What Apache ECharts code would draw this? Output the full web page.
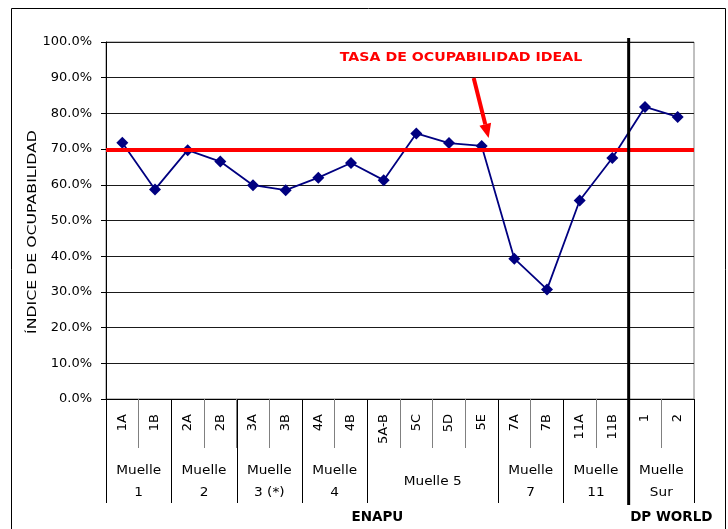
<!DOCTYPE html>
<html>
<head>
<meta charset="utf-8">
<script src="https://cdn.jsdelivr.net/npm/echarts@6/dist/echarts.min.js"></script>
<style>
html,body{margin:0;padding:0;background:#fff;}
#c{width:728px;height:529px;}
</style>
</head>
<body>
<div id="c"></div>
<script>
var categories = ['1A','1B','2A','2B','3A','3B','4A','4B','5A-B','5C','5D','5E','7A','7B','11A','11B','1','2'];
var values = [71.8,58.7,69.7,66.5,59.9,58.5,62.0,66.1,61.3,74.4,71.7,70.9,39.3,30.7,55.6,67.5,81.8,79.0];
var idealRate = 69.7;
var idealLabel = 'TASA DE OCUPABILIDAD IDEAL';
var yAxisTitle = 'ÍNDICE DE OCUPABILIDAD';
var yTicks = [0,10,20,30,40,50,60,70,80,90,100];
// groups: label, first category index, number of categories
var groupNames = ['Muelle\n1','Muelle\n2','Muelle\n3 (*)','Muelle\n4','Muelle 5','Muelle\n7','Muelle\n11','Muelle\nSur'];
var groupStarts = [0,2,4,6,8,12,14,16];
var groupSizes = [2,2,2,2,4,2,2,2];
var operators = ['ENAPU','DP WORLD'];
var operatorStarts = [0,16];
var operatorSizes = [16,2];

var FONT = 'DejaVu Sans';
var chart = echarts.init(document.getElementById('c'));
var option = {
  animation: false,
  backgroundColor: '#fff',
  grid: {left: 106, right: 34, top: 42, bottom: 130, show: true, borderColor: '#808080', borderWidth: 1, backgroundColor: 'transparent'},
  xAxis: {
    type: 'category', data: categories, boundaryGap: true,
    axisLine: {lineStyle: {color: '#000', width: 1}},
    axisTick: {show: true, length: 49, lineStyle: {color: '#808080'}},
    axisLabel: {rotate: 90, margin: 15, fontFamily: FONT, fontSize: 13, color: '#000'},
    splitLine: {show: false}
  },
  yAxis: {
    type: 'value', min: yTicks[0], max: yTicks[yTicks.length-1], interval: 10,
    axisLine: {show: true, lineStyle: {color: '#000'}},
    axisTick: {show: true, inside: false, length: 5, lineStyle: {color: '#000'}},
    axisLabel: {margin: 14, fontFamily: FONT, fontSize: 13, color: '#000', formatter: function(v){return v.toFixed(1)+'%';}},
    splitLine: {show: true, lineStyle: {color: '#1a1a1a', width: 1}}
  },
  series: [
    {
      type: 'line', z: 1, data: categories.map(function(){return null;}), symbol: 'none',
      markLine: {silent: true, symbol: 'none', label: {show: false},
        lineStyle: {color: '#ff0000', width: 4, type: 'solid'},
        data: [{yAxis: idealRate}]}
    },
    {
      type: 'line', z: 3, data: values, symbol: 'diamond', symbolSize: 12,
      lineStyle: {color: '#000080', width: 1.8},
      itemStyle: {color: '#000080'}
    }
  ]
};
chart.setOption(option);

function px(i, v){ return chart.convertToPixel({gridIndex:0}, [i, v]); }
var x0 = px(0,0)[0], x1 = px(1,0)[0];
var band = x1 - x0;
var left = x0 - band/2;
var yBase = px(0,0)[1];
var yTop = px(0,100)[1];
function bx(k){ return left + band*k; }

var g = [];
// outer border
g.push({type:'rect', shape:{x:11.5,y:8.5,width:714,height:540}, style:{fill:'none',stroke:'#000',lineWidth:1}, z:0});
// y axis title
g.push({type:'text', x:33, y:232, rotation: Math.PI/2, scaleX: 1.21, scaleY: 1,
  style:{text:yAxisTitle, fontFamily:FONT, fontSize:13, fill:'#000', align:'center', verticalAlign:'middle'}, z:5});
// group separators
var bounds = [0];
for (var i=0;i<groupStarts.length;i++){ bounds.push(groupStarts[i]+groupSizes[i]); }
bounds.forEach(function(b){
  if (b === operatorStarts[1]) return;
  var x = Math.round(bx(b))+0.5;
  g.push({type:'line', shape:{x1:x,y1:yBase,x2:x,y2:503}, style:{stroke:'#000',lineWidth:1}, z:5});
});
// thick operator separator
var xs = bx(operatorStarts[1]);
g.push({type:'line', shape:{x1:xs,y1:yTop-4,x2:xs,y2:505}, style:{stroke:'#000',lineWidth:3}, z:10});
// group labels
for (var j=0;j<groupNames.length;j++){
  var cx = bx(groupStarts[j] + groupSizes[j]/2);
  g.push({type:'text', x:cx, y:482, scaleX:1.05, style:{text:groupNames[j], fontFamily:FONT, fontSize:13, fill:'#000', align:'center', verticalAlign:'middle', lineHeight:22}, z:5});
}
// operator labels
var opOffsets = [10, 10];
for (var k=0;k<operators.length;k++){
  var ox = bx(operatorStarts[k] + operatorSizes[k]/2) + opOffsets[k];
  g.push({type:'text', x:ox, y:517, style:{text:operators[k], fontFamily:FONT, fontSize:13.5, fontWeight:'bold', fill:'#000', align:'center', verticalAlign:'middle'}, z:5});
}
// annotation
g.push({type:'text', x:461, y:58, scaleX:1.09, style:{text:idealLabel, fontFamily:FONT, fontSize:13, fontWeight:'bold', fill:'#ff0000', align:'center', verticalAlign:'middle'}, z:12});
var tip = px(11, values[11]);
var tx = tip[0] + 7, ty = tip[1]-8;
var sx = tx-15, sy = 78;
var ang = Math.atan2(ty-sy, tx-sx);
var hl = 14, hw = 6;
var bxp = tx - hl*Math.cos(ang), byp = ty - hl*Math.sin(ang);
g.push({type:'line', shape:{x1:sx,y1:sy,x2:bxp,y2:byp}, style:{stroke:'#ff0000',lineWidth:4}, z:12});
g.push({type:'polygon', shape:{points:[[tx,ty],[bxp - hw*Math.sin(ang), byp + hw*Math.cos(ang)],[bxp + hw*Math.sin(ang), byp - hw*Math.cos(ang)]]}, style:{fill:'#ff0000'}, z:12});
chart.setOption({graphic: g});
</script>
</body>
</html>
